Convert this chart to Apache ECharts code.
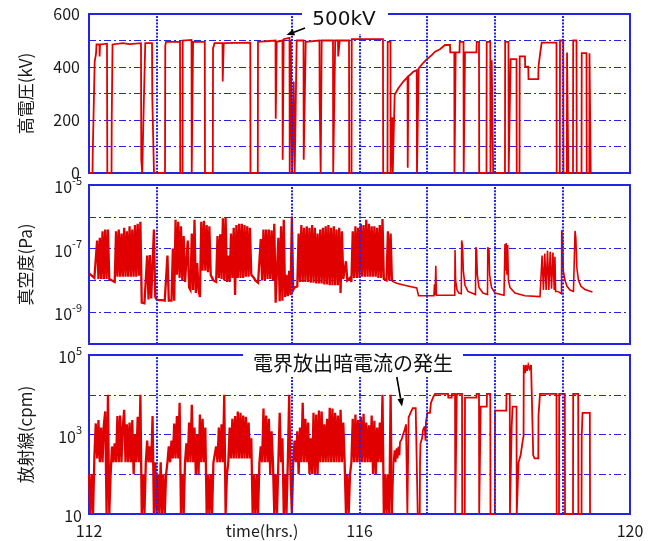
<!DOCTYPE html>
<html><head><meta charset="utf-8">
<script src="https://cdn.jsdelivr.net/npm/echarts/dist/echarts.min.js"></script>
<style>html,body{margin:0;padding:0;background:#fff}#c{width:655px;height:541px}</style>
</head><body><div id="c"></div>
<script>
// ---- axis / tick data ----
const hourMin = 112, hourMax = 120, hourLabelStep = 4;
const gridHours = [113, 115, 116, 117, 118, 119];
const hvTicks = [0, 200, 400, 600];
const vacLabelExps = [-5, -7, -9];
const radLabelExps = [5, 3, 1];
// sampled (dense) parts start at 112.00 h, one value per 0.02 h
const sampleStart = 112, sampleStep = 0.02;

// ---- 高電圧 (kV): [time h, kV] ----
const hvData = [
[112.00,0],[112.052,0],[112.055,70],[112.081,70],[112.084,420],[112.104,450],[112.111,485],[112.155,485],[112.157,440],[112.163,485],[112.266,488],[112.271,0],[112.333,0],[112.336,200],[112.345,200],[112.348,485],
[112.50,490],[112.60,486],[112.769,490],[112.773,50],[112.784,50],[112.787,0],[112.806,0],[112.809,250],[112.828,250],[112.832,490],[112.932,490],[112.936,285],[112.957,285],[112.961,0],
[113.124,0],[113.128,480],[113.139,495],[113.346,495],[113.349,0],[113.383,0],[113.386,500],[113.516,502],[113.519,0],[113.536,0],[113.539,495],[113.712,495],[113.715,0],[113.831,0],[113.834,470],[113.856,490],[113.974,490],[113.977,345],[113.989,345],[113.992,490],[114.385,492],[114.388,0],[114.496,0],[114.499,495],[114.758,500],[114.761,205],[114.773,205],[114.776,495],[114.861,500],[114.864,50],[114.876,50],[114.879,505],[114.965,510],[114.968,0],[114.980,0],[114.983,500],[115.002,500],[115.005,0],[115.024,0],[115.027,345],[115.039,345],[115.042,0],[115.068,0],[115.071,500],[115.172,500],[115.175,50],[115.202,50],[115.205,495],[115.408,500],[115.411,270],[115.423,270],[115.426,0],[115.438,0],[115.441,500],[115.608,500],[115.611,0],[115.638,0],[115.641,500],[115.682,500],[115.685,440],[115.705,440],[115.708,500],[115.845,500],[115.848,0],[115.882,0],[115.885,505],[116.347,505],[116.350,0],[116.414,0],[116.417,495],[116.458,495],[116.461,0],[116.481,0],[116.484,210],[116.489,210],[116.492,0],[116.517,0],[116.520,295],[116.574,320],[116.648,345],[116.710,362],[116.713,20],[116.720,20],[116.723,365],[116.795,382],[116.846,388],[116.850,0],[116.872,0],[116.875,395],[116.943,416],[116.994,429],[117.068,445],[117.117,458],[117.190,467],[117.264,483],[117.338,483],[117.342,455],[117.402,455],[117.405,0],[117.419,0],[117.422,455],[117.479,455],[117.482,495],[117.538,495],[117.541,0],[117.557,0],[117.560,455],[117.730,455],[117.733,495],[117.767,495],[117.770,0],[117.878,0],[117.881,495],[117.934,495],[117.937,0],[117.952,0],[117.955,425],[117.974,425],[117.977,0],[118.151,0],[118.154,495],[118.203,495],[118.206,0],[118.232,0],[118.235,430],[118.322,430],[118.325,0],[118.366,0],[118.369,440],[118.447,440],[118.450,401],[118.496,401],[118.499,354],[118.644,354],[118.647,401],[118.669,401],[118.672,452],[118.691,452],[118.694,492],[118.913,492],[118.916,0],[118.962,0],[118.965,500],[119.013,500],[119.016,0],[119.066,0],[119.069,455],[119.085,455],[119.088,0],[119.157,0],[119.160,500],[119.209,500],[119.212,0],[119.283,0],[119.286,452],[119.357,452],[119.360,0],[119.398,0],[119.401,452],[119.416,452],[119.419,0]
];

// ---- 真空度 (Pa): dense part, one value per 0.02 h from 112.00 ----
const vacDense = [
1.7e-8,1.5e-8,1.4e-8,1.3e-8,1.2e-8,1.15e-8,
1.8e-7,1.1e-8,2.2e-7,1.1e-8,3.5e-7,1.1e-8,4e-7,1.1e-8,4e-7,
1.1e-8,1.05e-8,1e-8,9.5e-9,9e-9,
3.5e-7,1.3e-8,4e-7,1.3e-8,3e-7,1.3e-8,4.5e-7,1.3e-8,3.5e-7,1.3e-8,5e-7,1.3e-8,4e-7,1.3e-8,5.5e-7,1.3e-8,6e-7,1.4e-8,7e-7,
2e-9,2e-9,1.9e-9,2e-9,
6e-8,2.5e-9,6.3e-8,2.7e-9,3e-9,4e-7,3e-9,
2.5e-9,2.4e-9,2.4e-9,2.4e-9,2.4e-9,2.4e-9,2.3e-9,2.3e-9,6e-8,2.3e-9,2.3e-9,2.3e-9,
1e-7,2.3e-9,8e-7,1.5e-8,7e-7,1.2e-8,5e-7,1e-8,2.5e-7,9e-9,
8e-9,1.8e-7,6e-9,5e-9,3e-7,5e-9,8e-7,4e-9,
3.5e-8,5e-9,3e-9,
7e-7,2e-8,7.5e-7,2e-8,5.5e-7,1.8e-8,5e-7,1.5e-8,
1.2e-8,1e-8,9e-9,9e-9,
2.5e-7,1.2e-8,2.8e-7,1.1e-8,9e-7,1e-8,9.5e-7,9e-9,6e-8,9e-9,
3e-7,1.2e-8,4.5e-7,3.5e-9,5.5e-7,1.2e-8,6e-7,1.2e-8,6e-7,1.2e-8,5.5e-7,1.3e-8,5e-7,1.3e-8,4.5e-7,1.5e-8,
1.4e-8,1.2e-8,1e-8,9e-9,8.5e-9,8e-9,
2e-7,1e-8,4e-7,1e-8,4e-7,1.1e-8,4e-7,1.1e-8,3.8e-7,1e-8,
6e-7,2e-9,2e-9,2.2e-7,2.2e-9,5e-7,2.3e-9,8e-7,
3e-9,1.5e-8,3.2e-9,2e-8,3.5e-9,1e-6,
5e-9,6e-9,6.5e-9,6.5e-9,
3e-7,9e-9,5.5e-7,9e-9,4.5e-7,9e-9,5e-7,9e-9,4.5e-7,8.5e-9,5.5e-7,8.5e-9,4.5e-7,8e-9,3e-7,
8e-9,4e-7,8e-9,4.5e-7,7.5e-9,5e-7,7.5e-9,5.5e-7,7e-9,4.5e-7,7e-9,5e-7,7e-9,4e-7,7e-9,4.5e-7,4e-9,3.5e-7,
1.1e-8,1e-8,4e-8,1e-8,9e-9,1.2e-8,9e-9,
3.5e-7,1.2e-8,5e-7,1.2e-8,4.5e-7,1.2e-8,6e-7,1.3e-8,5.5e-7,1.3e-8,8e-7,1.3e-8,6e-7,1.3e-8,5e-7,1.3e-8,5e-7,1.3e-8,4.5e-7,1.2e-8,5.5e-7,1.2e-8,8.5e-7,
1.1e-8,1e-8,1e-8,3.5e-7,1e-8,3e-7,9.5e-9
];
// ---- 真空度 (Pa): later part, [time h, Pa] ----
const vacTail = [
[116.48,9.5e-9],[116.550,8.1e-9],[116.698,6.8e-9],[116.846,5.8e-9],[116.870,5.5e-9],[116.873,3.3e-9],[117.101,3.3e-9],[117.109,7.5e-9],[117.119,3.4e-9],[117.128,2.9e-8],[117.137,3.4e-9],[117.409,3.4e-9],[117.413,9e-8],[117.421,1e-8],[117.442,5e-9],[117.471,4e-9],[117.505,3.8e-9],[117.511,1.8e-7],[117.524,1.2e-7],[117.535,2e-8],[117.560,7e-9],[117.604,4.5e-9],[117.715,3.6e-9],[117.721,1.1e-7],[117.731,9e-8],[117.742,1.5e-8],[117.767,6e-9],[117.826,4e-9],[117.893,3.6e-9],[117.897,1.1e-7],[117.915,9e-8],[117.924,1.5e-8],[117.952,6e-9],[118.004,4e-9],[118.137,3.4e-9],[118.151,1.4e-7],[118.160,2e-8],[118.170,1.5e-7],[118.180,1.5e-8],[118.191,1.3e-7],[118.202,1e-8],[118.225,6e-9],[118.299,4e-9],[118.447,3.3e-9],[118.669,3.1e-9],[118.691,3.1e-9],[118.70,6e-8],[118.72,5e-9],[118.74,7e-8],[118.76,5e-9],[118.78,8.5e-8],[118.80,5e-9],[118.82,8e-8],[118.84,5.5e-9],[118.86,7.5e-8],[118.88,5e-9],[118.89,5.5e-8],[118.90,4.5e-9],[118.932,4.5e-9],[118.987,3.8e-9],[118.990,3.8e-7],[119.002,2.5e-7],[119.014,2e-8],[119.039,1e-8],[119.069,6.5e-9],[119.113,5e-9],[119.164,4.5e-9],[119.187,3.6e-7],[119.199,2.2e-7],[119.214,2.5e-8],[119.238,1e-8],[119.275,6.5e-9],[119.334,5.2e-9],[119.445,4.3e-9]
];

// ---- 放射線 (cpm): dense part, one value per 0.02 h from 112.00 ----
const radDense = [
100,10,100,10,
290,1900,250,2300,200,1500,200,1800,3800,
10,10000,10,100,
500,200,600,200,2900,200,3000,200,1600,4200,200,1800,200,2000,200,2300,100,1000,200,2800,200,10000,
10,100,10,
200,700,200,500,200,2900,
10,200,10,100,10,200,10,100,10,100,
200,500,200,700,250,1900,250,2900,250,6300,
10,100,10,
200,600,200,2000,200,5600,200,1500,
100,1000,100,3200,200,2500,200,1500,
10,100,10,100,10,200,
200,500,200,1500,200,1800,200,10000,
10,100,
200,1500,250,2500,250,2900,250,3800,250,3500,250,3000,250,2800,250,2000,250,800,
10,100,10,100,10,
200,500,200,4500,200,3000,200,2500,100,1200,200,
10,100,10,
200,3500,200,800,
10,100,10,
200,10000,100,10,
200,700,200,1200,100,1500,200,6300,200,2500,200,2000,100,800,
100,3500,100,3200,100,4000,200,3800,200,1800,200,2500,200,4700,200,4500,200,3500,200,3000,200,4200,200,2000,200,
10,100,10,100,
200,2500,200,3200,200,2300,200,2800,200,3300,200,2000,200,1700,200,3000,100,2200,100,1500,200,2000,200,10000,
10,100,10,100,10,10000,10
];
// ---- 放射線 (cpm): later part, [time h, cpm] ----
const radTail = [
[116.48,10],[116.500,10],[116.503,200],[116.518,400],[116.533,200],[116.548,450],[116.562,250],[116.577,500],[116.592,300],[116.599,650],[116.624,760],[116.643,1000],[116.665,1250],[116.683,1200],[116.688,1800],[116.705,1800],[116.708,10],[116.723,10],[116.726,2700],[116.749,3000],[116.764,3800],[116.786,3800],[116.789,4600],[116.831,4600],[116.838,5000],[116.858,5000],[116.861,10],[116.891,10],[116.895,200],[116.902,600],[116.925,800],[116.939,1300],[116.964,1600],[116.976,700],[116.983,2100],[117.005,3500],[117.042,3500],[117.057,6300],[117.087,8500],[117.117,10500],[117.309,10500],[117.313,8500],[117.363,8500],[117.368,10500],[117.413,10500],[117.416,10],[117.435,10],[117.438,8500],[117.442,10500],[117.516,10500],[117.519,10],[117.557,10],[117.560,8500],[117.730,8500],[117.733,10500],[117.767,10500],[117.770,10],[117.789,10],[117.792,5000],[117.882,5000],[117.885,10500],[117.934,10500],[117.937,10],[118.001,10],[118.004,4000],[118.171,4000],[118.174,10500],[118.222,10500],[118.225,10],[118.247,10],[118.250,1500],[118.263,5000],[118.322,5000],[118.325,10],[118.349,10],[118.352,200],[118.382,300],[118.419,800],[118.426,900],[118.429,56000],[118.448,35000],[118.463,56000],[118.478,40000],[118.496,56000],[118.515,45000],[118.537,56000],[118.566,50000],[118.569,300],[118.590,250],[118.644,250],[118.647,3000],[118.669,10500],[118.913,10500],[118.916,10],[118.950,10],[118.953,10500],[119.036,10500],[119.039,10],[119.157,10],[119.160,10500],[119.234,10500],[119.237,10],[119.283,10],[119.286,900],[119.298,3500],[119.406,3500],[119.409,10]
];

// ---- chart ----
const BLUE = '#2424e4';
const RED = '#e00000';
const TXT = '#1a1a1a';
const JP = '"Noto Sans CJK JP", "Noto Sans", sans-serif';
const sampled = arr => arr.map((v, i) => [+(sampleStart + i * sampleStep).toFixed(3), v]);

const hGrid = {show: true, lineStyle: {color: BLUE, width: 1.2, type: [7, 3, 2, 3]}};
const vGridMark = {
  silent: true, symbol: ['none', 'none'], label: {show: false}, animation: false,
  lineStyle: {color: BLUE, width: 2, type: [2, 1.3], opacity: 1},
  emphasis: {disabled: true},
  data: gridHours.map(h => ({xAxis: h}))
};
const grids = [
  {left: 89, top: 14, width: 541, height: 159},
  {left: 89, top: 185, width: 541, height: 159},
  {left: 89, top: 355, width: 541, height: 159}
].map(g => Object.assign(g, {show: true, borderColor: BLUE, borderWidth: 2, backgroundColor: 'transparent'}));

const xAxes = [0, 1, 2].map(k => ({
  type: 'value', gridIndex: k, min: hourMin, max: hourMax, interval: hourLabelStep,
  axisLine: {show: false}, axisTick: {show: false}, splitLine: {show: false},
  axisLabel: {show: k === 2, fontSize: 16, color: TXT, margin: 9, fontFamily: JP}
}));

const rich = {
  b: {fontSize: 16, color: TXT, fontFamily: JP, lineHeight: 20, verticalAlign: 'bottom'},
  s: {fontSize: 11, color: TXT, fontFamily: JP, lineHeight: 11, verticalAlign: 'top'}
};
const logFmt = exps => v => {
  const e = Math.round(Math.log10(v));
  if (!exps.includes(e)) return '';
  return e === 1 ? '{b|10}' : '{b|10}{s|' + e + '}';
};
const nameStyle = {fontSize: 17, color: TXT, fontFamily: JP};
const yAxes = [
  {type: 'value', gridIndex: 0, min: 0, max: 600, interval: 100,
   name: '高電圧(kV)', nameLocation: 'middle', nameGap: 55, nameTextStyle: nameStyle,
   axisLine: {show: false}, axisTick: {show: false}, splitLine: hGrid,
   axisLabel: {fontSize: 16, color: TXT, fontFamily: JP, margin: 9,
     formatter: v => hvTicks.includes(v) ? String(v) : ''}},
  {type: 'log', logBase: 10, gridIndex: 1, min: 1e-10, max: 1e-5,
   name: '真空度(Pa)', nameLocation: 'middle', nameGap: 55, nameTextStyle: nameStyle,
   axisLine: {show: false}, axisTick: {show: false}, splitLine: hGrid,
   axisLabel: {margin: 7, formatter: logFmt(vacLabelExps), rich}},
  {type: 'log', logBase: 10, gridIndex: 2, min: 10, max: 1e5,
   name: '放射線(cpm)', nameLocation: 'middle', nameGap: 55, nameTextStyle: nameStyle,
   axisLine: {show: false}, axisTick: {show: false}, splitLine: hGrid,
   axisLabel: {margin: 7, formatter: logFmt(radLabelExps), rich}}
];

const line = (k, data, w, extra) => Object.assign({
  type: 'line', xAxisIndex: k, yAxisIndex: k, data, showSymbol: false, symbol: 'none',
  lineStyle: {color: RED, width: w, join: 'miter', miterLimit: 4}, itemStyle: {color: RED}, animation: false, silent: true, clip: true
}, extra || {});

const series = [
  line(0, hvData, 1.8, {markLine: vGridMark}),
  line(1, sampled(vacDense), 2.3, {markLine: vGridMark}),
  line(1, vacTail, 1.6),
  line(2, sampled(radDense), 2.3, {markLine: vGridMark}),
  line(2, radTail, 1.8)
];

const arrow = (x1, y1, x2, y2) => {
  const dx = x2 - x1, dy = y2 - y1, L = Math.hypot(dx, dy), ux = dx / L, uy = dy / L;
  const bx = x2 - 8 * ux, by = y2 - 8 * uy, px = -uy * 3.2, py = ux * 3.2;
  return [
    {type: 'line', z: 102, shape: {x1, y1, x2: bx, y2: by}, style: {stroke: '#000', lineWidth: 1.6}},
    {type: 'polygon', z: 102, shape: {points: [[x2, y2], [bx + px, by + py], [bx - px, by - py]]}, style: {fill: '#000'}}
  ];
};

const graphic = [
  {type: 'rect', z: 100, shape: {x: 302, y: 3, width: 86, height: 31}, style: {fill: '#fff'}},
  {type: 'text', z: 101, x: 344, y: 20, style: {text: '500kV', fontSize: 20, fontFamily: '"DejaVu Sans", sans-serif', fill: '#111', align: 'center', verticalAlign: 'middle', textAlign: 'center', textVerticalAlign: 'middle'}},
  ...arrow(305, 28, 286.5, 35),
  {type: 'rect', z: 100, shape: {x: 243, y: 348, width: 220, height: 29}, style: {fill: '#fff'}},
  {type: 'text', z: 101, x: 353, y: 363, style: {text: '電界放出暗電流の発生', fontSize: 20, fontFamily: JP, fill: '#111', align: 'center', verticalAlign: 'middle', textAlign: 'center', textVerticalAlign: 'middle'}},
  ...arrow(396.8, 377, 402, 406.5),
  {type: 'text', z: 101, x: 262, y: 531, style: {text: 'time(hrs.)', fontSize: 16, fontFamily: JP, fill: TXT, align: 'center', verticalAlign: 'middle', textAlign: 'center', textVerticalAlign: 'middle'}}
];

const chart = echarts.init(document.getElementById('c'), null, {renderer: 'canvas'});
chart.setOption({
  animation: false, backgroundColor: '#fff',
  grid: grids, xAxis: xAxes, yAxis: yAxes, series, graphic
});
</script></body></html>
